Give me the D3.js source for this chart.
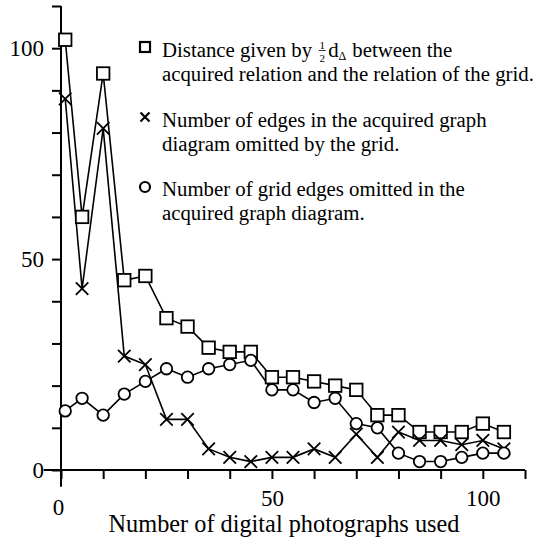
<!DOCTYPE html>
<html lang="en">
<head>
  <meta charset="UTF-8">
  <title>Digital photographs chart</title>
  <script src="https://d3js.org/d3.v7.min.js"></script>
  <style>
    body { margin: 0; background: #fff; }
    text { font-family: "Liberation Serif", "DejaVu Serif", serif; fill: #000; }
    .axis text { font-size: 23px; }
    .legend text { font-size: 20.8px; }
  </style>
</head>
<body>
  <svg width="536" height="540"></svg>
  <script>
    // photographs used (x) and the three measured series
    const photos = [1, 5, 10, 15, 20, 25, 30, 35, 40, 45, 50, 55, 60, 65, 70, 75, 80, 85, 90, 95, 100, 105];
    const distance = [102, 60, 94, 45, 46, 36, 34, 29, 28, 28, 22, 22, 21, 20, 19, 13, 13, 9, 9, 9, 11, 9];
    const omittedByGrid = [88, 43, 81, 27, 25, 12, 12, 5, 3, 2, 3, 3, 5, 3, 8.5, 3, 9, 7, 7, 6, 7, 5];
    const gridOmitted = [14, 17, 13, 18, 21, 24, 22, 24, 25, 26, 19, 19, 16, 17, 11, 10, 4, 2, 2, 3, 4, 4];
    const tickValues = d3.range(0, 111, 10);
    const labelled = [0, 50, 100];

    const svg = d3.select('svg');

    const x = d3.scaleLinear().domain([0, 110]).range([61, 525]);
    const y = d3.scaleLinear().domain([0, 110]).range([470, 6]);

    // axes
    const xAxis = svg.append('g')
      .attr('class', 'axis')
      .attr('transform', `translate(0,${y(0)})`)
      .call(d3.axisBottom(x).tickValues(tickValues).tickSize(9).tickPadding(11)
        .tickFormat(d => labelled.includes(d) ? d : ''));
    xAxis.select('.domain').remove();
    xAxis.selectAll('line').attr('stroke-width', 2);
    // the 0 label sits a little lower than the others
    xAxis.selectAll('.tick')
      .filter(d => d === 0)
      .select('text')
      .attr('transform', 'translate(-3,9)');

    const yAxis = svg.append('g')
      .attr('class', 'axis')
      .attr('transform', `translate(${x(0)},0)`)
      .call(d3.axisLeft(y).tickValues(tickValues).tickSize(9).tickPadding(8)
        .tickFormat(d => labelled.includes(d) ? d : ''));
    yAxis.select('.domain').remove();
    yAxis.selectAll('line').attr('stroke-width', 2);

    svg.append('line')
      .attr('x1', x(-4.1)).attr('x2', x(110))
      .attr('y1', y(0)).attr('y2', y(0))
      .attr('stroke', '#000').attr('stroke-width', 2);
    svg.append('line')
      .attr('x1', x(0)).attr('x2', x(0))
      .attr('y1', y(-4)).attr('y2', y(110))
      .attr('stroke', '#000').attr('stroke-width', 2);

    svg.append('text')
      .attr('x', 284)
      .attr('y', 532)
      .attr('text-anchor', 'middle')
      .style('font-size', '24.3px')
      .text('Number of digital photographs used');

    // lines
    const series = [
      { values: distance, mark: 'square' },
      { values: omittedByGrid, mark: 'cross' },
      { values: gridOmitted, mark: 'circle' }
    ];

    const line = d3.line()
      .x(d => x(d[0]))
      .y(d => y(d[1]));

    series.forEach(s => {
      svg.append('path')
        .datum(photos.map((p, i) => [p, s.values[i]]))
        .attr('d', line)
        .attr('fill', 'none')
        .attr('stroke', '#000')
        .attr('stroke-width', 1.6);
    });

    function drawMark(g, type, cx, cy, size, sw) {
      if (type === 'square') {
        g.append('rect')
          .attr('x', cx - size / 2).attr('y', cy - size / 2)
          .attr('width', size).attr('height', size)
          .attr('fill', '#fff').attr('stroke', '#000').attr('stroke-width', sw);
      } else if (type === 'circle') {
        g.append('circle')
          .attr('cx', cx).attr('cy', cy).attr('r', size / 2)
          .attr('fill', '#fff').attr('stroke', '#000').attr('stroke-width', sw);
      } else {
        const h = size / 2;
        g.append('path')
          .attr('d', `M${cx - h},${cy - h}L${cx + h},${cy + h}M${cx - h},${cy + h}L${cx + h},${cy - h}`)
          .attr('stroke', '#000').attr('stroke-width', sw);
      }
    }

    const marks = svg.append('g');
    series.forEach(s => {
      photos.forEach((p, i) => {
        const size = s.mark === 'circle' ? 11.5 : 12.5;
        drawMark(marks, s.mark, x(p), y(s.values[i]), size, 1.8);
      });
    });

    // legend
    const legend = svg.append('g').attr('class', 'legend');
    const legendRows = [
      { mark: 'square', cy: 47, base: 56.5, lines: [null, 'acquired relation and the relation of the grid.'] },
      { mark: 'cross', cy: 117, base: 126.5, lines: ['Number of edges in the acquired graph', 'diagram omitted by the grid.'] },
      { mark: 'circle', cy: 187, base: 195.5, lines: ['Number of grid edges omitted in the', 'acquired graph diagram.'] }
    ];
    const textX = 162;

    legendRows.forEach(r => {
      drawMark(legend, r.mark, 145, r.cy, r.mark === 'cross' ? 9 : 10, 2.2);
      r.lines.forEach((t, k) => {
        if (t !== null) {
          legend.append('text')
            .attr('x', textX)
            .attr('y', r.base + k * 24.5)
            .text(t);
        }
      });
    });

    // first legend line with the ½ d_Δ expression
    const base = legendRows[0].base;
    let cx = textX;
    const part1 = legend.append('text').attr('x', cx).attr('y', base).text('Distance given by');
    cx += part1.node().getComputedTextLength() + 6;
    legend.append('text').attr('x', cx + 4).attr('y', base - 8)
      .attr('text-anchor', 'middle').style('font-size', '11px').text('1');
    legend.append('line')
      .attr('x1', cx + 0.5).attr('x2', cx + 7.5).attr('y1', base - 6).attr('y2', base - 6)
      .attr('stroke', '#000').attr('stroke-width', 0.8);
    legend.append('text').attr('x', cx + 4).attr('y', base + 5)
      .attr('text-anchor', 'middle').style('font-size', '11px').text('2');
    cx += 10;
    const dPart = legend.append('text').attr('x', cx).attr('y', base).text('d');
    cx += dPart.node().getComputedTextLength();
    const delta = legend.append('text').attr('x', cx).attr('y', base + 3)
      .style('font-size', '12px').text('Δ');
    cx += delta.node().getComputedTextLength() + 6;
    legend.append('text').attr('x', cx).attr('y', base).text('between the');
  </script>
</body>
</html>
